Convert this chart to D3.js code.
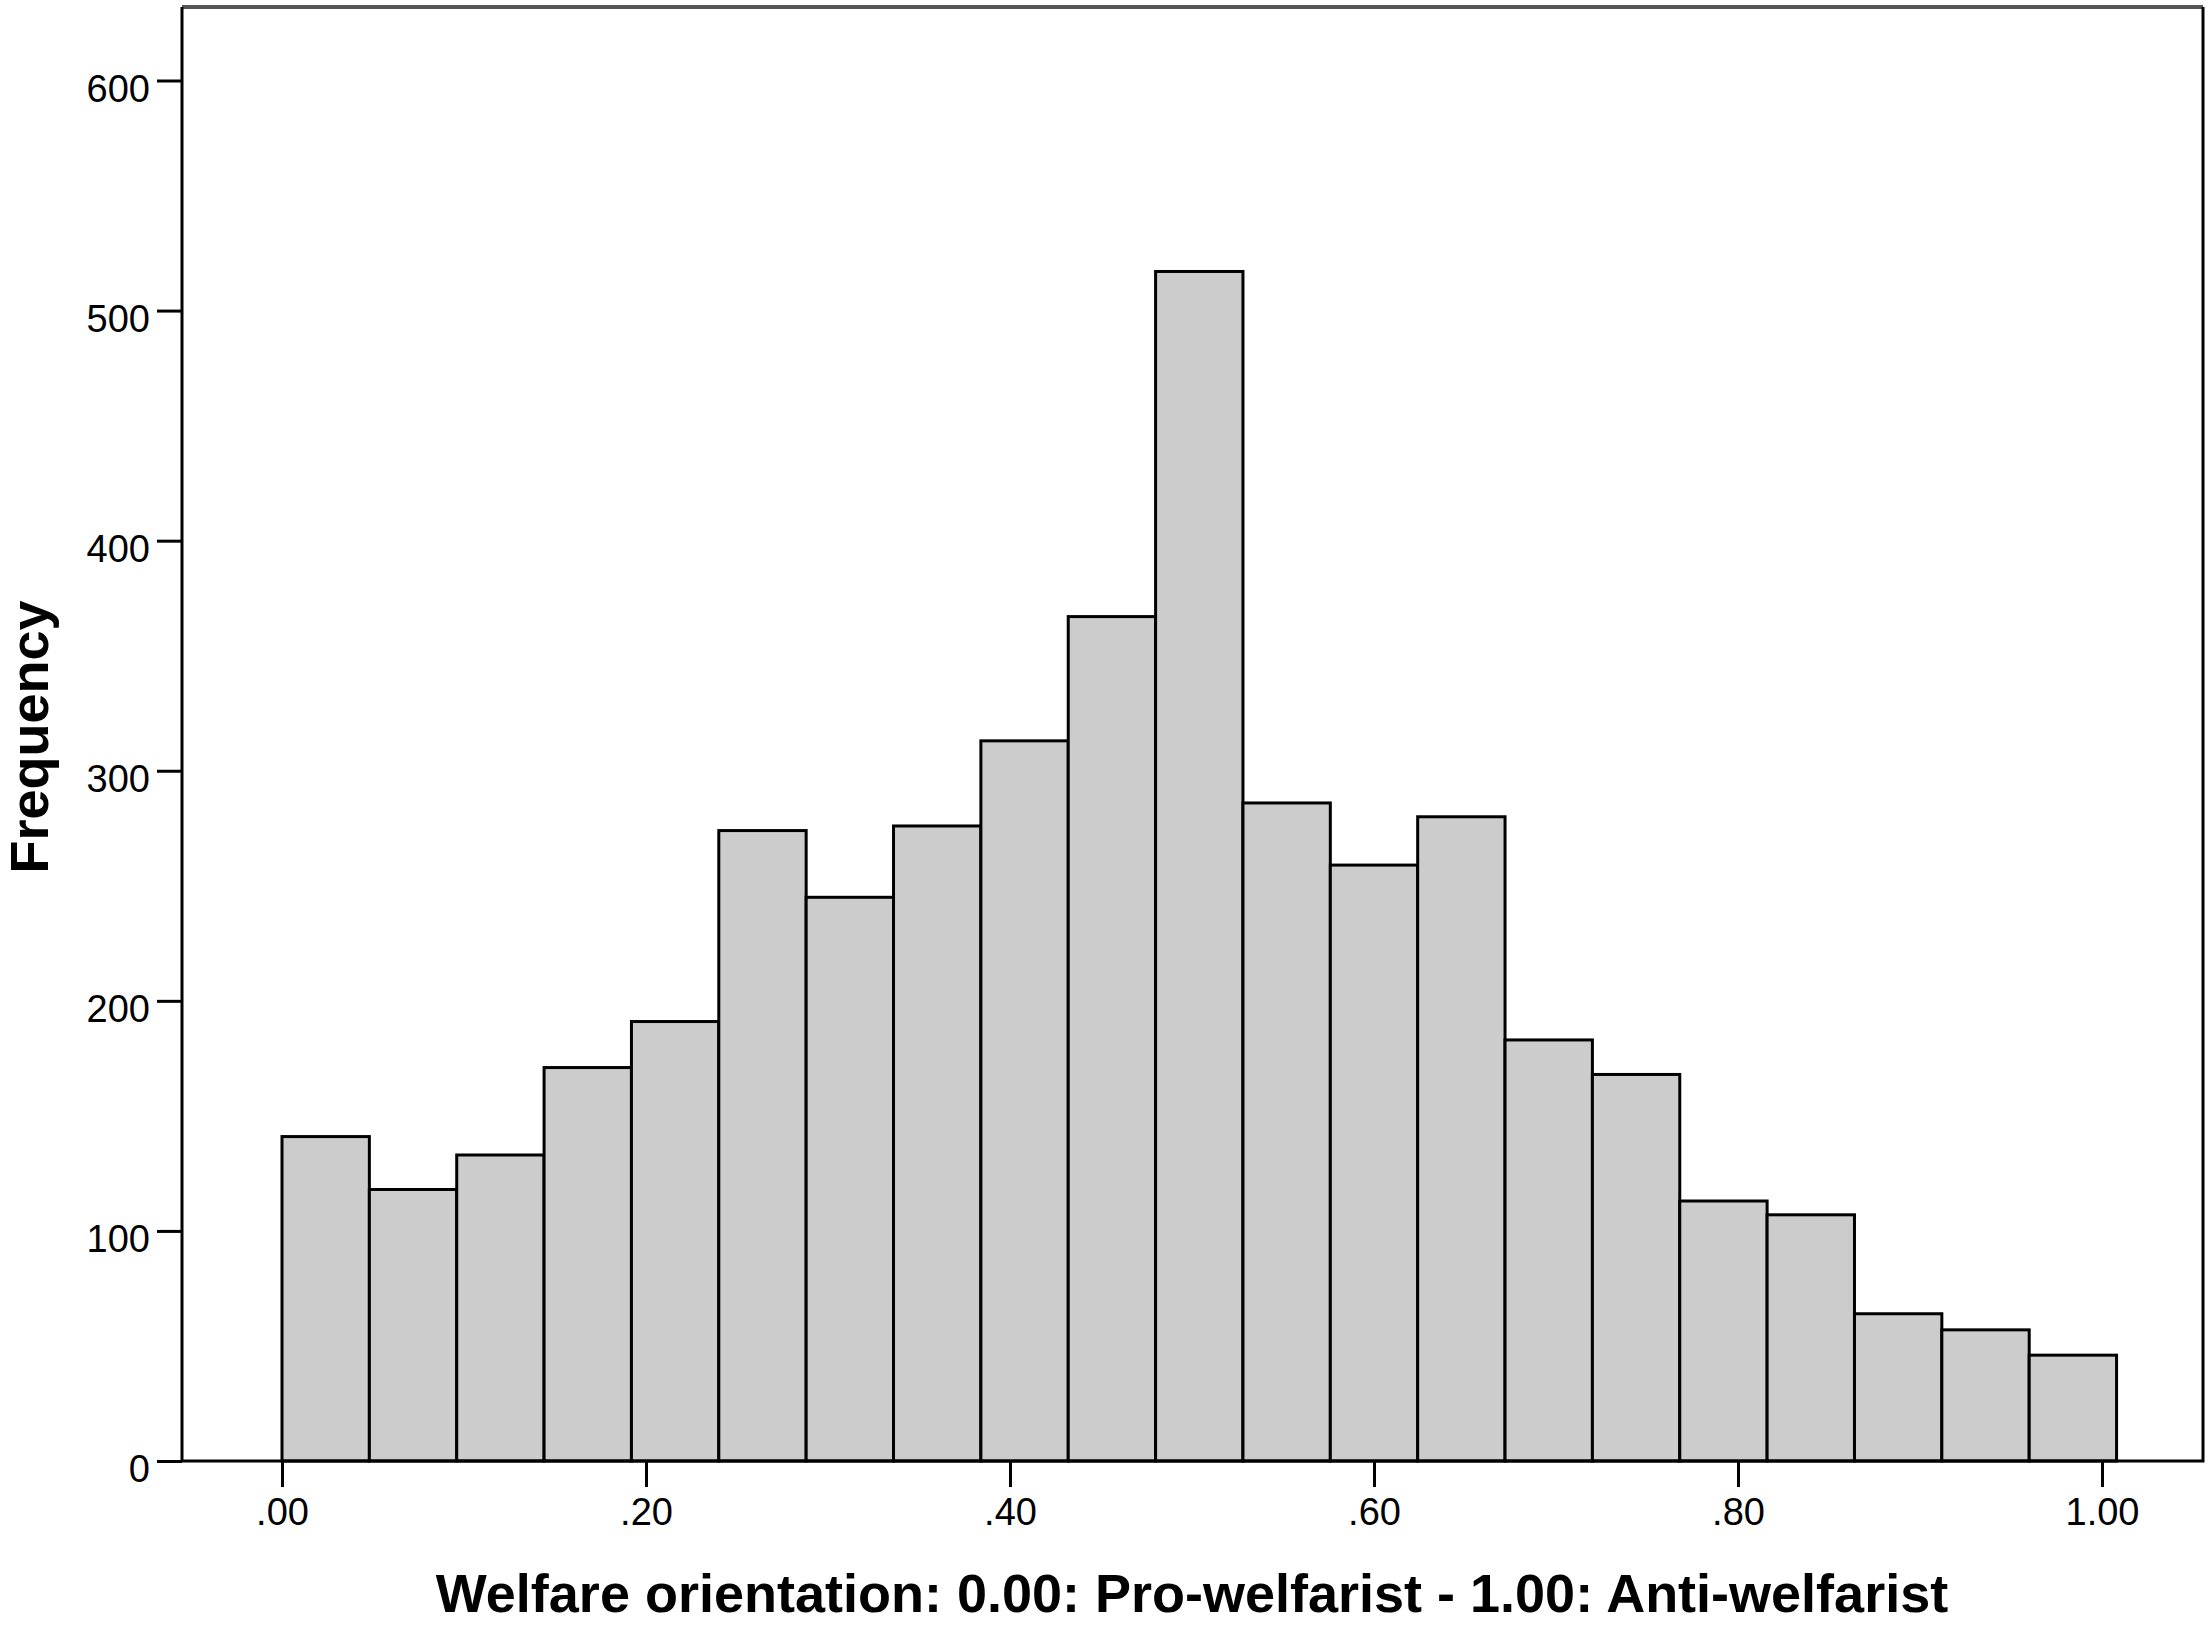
<!DOCTYPE html>
<html lang="en">
<head>
    <meta charset="UTF-8">
    <title>Welfare orientation histogram</title>
    <script src="https://d3js.org/d3.v7.min.js"></script>
    <style>
        body {margin: 0; background: white;}
        text {font-family: Arial, "Liberation Sans", sans-serif;}
        .tick text {font-size: 38px; fill: black;}
        .tick line {stroke: black; stroke-width: 3;}
        .title {font-size: 54px; font-weight: bold;}
    </style>
</head>
<body>
<script>
    const width = 2212;
    const height = 1626;

    // histogram bins (SPSS auto binning, width .048 starting at .00)
    const binStart = 0;
    const binWidth = 0.048;
    const frequencies = [141, 118, 133, 171, 191, 274, 245, 276, 313, 367, 517,
                         286, 259, 280, 183, 168, 113, 107, 64, 57, 46];
    const xTicks = [0, 0.2, 0.4, 0.6, 0.8, 1.0];
    const yTicks = [0, 100, 200, 300, 400, 500, 600];
    const xTitle = "Welfare orientation: 0.00: Pro-welfarist - 1.00: Anti-welfarist";
    const yTitle = "Frequency";

    // plot frame
    const frame = {left: 182, right: 2203, top: 7, bottom: 1461};

    const svg = d3.select("body").append("svg")
            .attr("width", width).attr("height", height);

    const x = d3.scaleLinear().domain([0, 1]).range([282, 2102]);
    const y = d3.scaleLinear().domain([0, 600]).range([frame.bottom, 80.5]);

    const bins = frequencies.map((f, i) => ({
        x0: binStart + i * binWidth,
        x1: binStart + (i + 1) * binWidth,
        count: f
    }));

    // bars
    svg.append("g").attr("class", "bars")
            .selectAll("rect")
            .data(bins)
            .enter()
            .append("rect")
            .attr("x", d => x(d.x0))
            .attr("width", d => x(d.x1) - x(d.x0))
            .attr("y", d => y(d.count))
            .attr("height", d => y(0) - y(d.count))
            .style("fill", "#cccccc")
            .style("stroke", "black")
            .style("stroke-width", 3);

    // frame: grey top, black elsewhere
    svg.append("line")
            .attr("x1", frame.left).attr("x2", frame.right)
            .attr("y1", frame.top).attr("y2", frame.top)
            .style("stroke", "#555").style("stroke-width", 4);
    svg.append("path")
            .attr("d", `M${frame.left},${frame.top}V${frame.bottom}H${frame.right}V${frame.top}`)
            .style("fill", "none")
            .style("stroke", "black")
            .style("stroke-width", 3);

    const fmt = v => d3.format(".2f")(v).replace(/^0/, "");

    const xAxis = svg.append("g")
            .attr("transform", `translate(0,${frame.bottom})`)
            .call(d3.axisBottom(x).tickValues(xTicks).tickFormat(fmt)
                    .tickSize(26).tickSizeOuter(0).tickPadding(11));
    xAxis.select(".domain").remove();
    xAxis.attr("font-family", null).attr("font-size", null);

    const yAxis = svg.append("g")
            .attr("transform", `translate(${frame.left},0)`)
            .call(d3.axisLeft(y).tickValues(yTicks)
                    .tickSize(25).tickSizeOuter(0).tickPadding(7));
    yAxis.select(".domain").remove();
    yAxis.attr("font-family", null).attr("font-size", null);
    yAxis.selectAll(".tick text").attr("dy", "0.55em");

    svg.append("text").attr("class", "title")
            .attr("x", 1192).attr("y", 1612)
            .attr("text-anchor", "middle")
            .text(xTitle);

    svg.append("text").attr("class", "title")
            .attr("transform", "translate(48,737) rotate(-90)")
            .attr("text-anchor", "middle")
            .text(yTitle);
</script>
</body>
</html>
